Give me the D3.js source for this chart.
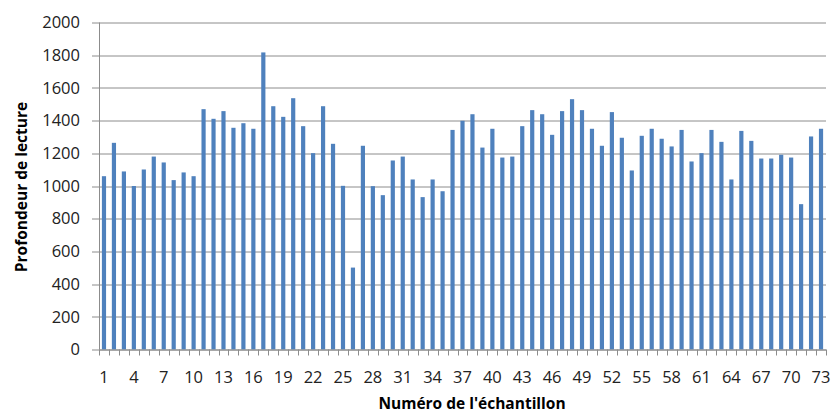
<!DOCTYPE html>
<html>
<head>
<meta charset="utf-8">
<script src="https://cdn.jsdelivr.net/npm/d3@7"></script>
<style>
  body { margin: 0; background: #fff; }
  text { font-family: "Open Sans", "Liberation Sans", sans-serif; }
</style>
</head>
<body>
<script>
// sample numbers 1..73
let samples = d3.range(1, 74);
// read depth per sample
let depths = [
  1060, 1264, 1089, 1000, 1101, 1180, 1144, 1036, 1083, 1060,
  1470, 1411, 1458, 1356, 1384, 1350, 1817, 1488, 1423, 1537,
  1366, 1201, 1488, 1258, 1001, 501, 1246, 999, 944, 1156,
  1180, 1040, 932, 1040, 968, 1343, 1399, 1439, 1235, 1350,
  1174, 1180, 1366, 1464, 1439, 1313, 1458, 1531, 1464, 1350,
  1246, 1452, 1295, 1095, 1307, 1350, 1289, 1242, 1343, 1150,
  1201, 1343, 1270, 1040, 1337, 1276, 1168, 1168, 1191, 1174,
  889, 1303, 1350
];
let yTicks = [0, 200, 400, 600, 800, 1000, 1200, 1400, 1600, 1800, 2000];

let w = 833, h = 415;
let margin = {top: 22.5, right: 7, bottom: 65.5, left: 99};
let width = w - margin.left - margin.right, height = h - margin.top - margin.bottom;

let svg = d3.select("body").append("svg").attr("width", w).attr("height", h);
let g = svg.append("g").attr("transform", "translate(" + margin.left + "," + margin.top + ")");

let xScale = d3.scaleBand().domain(samples).range([0, width]).paddingInner(0.58).paddingOuter(0.29);
let yScale = d3.scaleLinear().domain([0, 2000]).range([height, 0]);

// gridlines + left ticks
g.selectAll(".grid").data(yTicks).enter().append("line")
  .attr("x1", -7).attr("x2", width)
  .attr("y1", d => Math.round(yScale(d)) + 0.5).attr("y2", d => Math.round(yScale(d)) + 0.5)
  .attr("stroke", "#8c8c8c").attr("stroke-width", 1);

g.selectAll(".ylab").data(yTicks).enter().append("text")
  .attr("x", -19).attr("y", d => yScale(d)).attr("dy", "0.35em")
  .attr("text-anchor", "end").attr("font-size", "16.5px").attr("fill", "#222")
  .text(d => d);

// bars
g.selectAll(".bar").data(samples).enter().append("rect")
  .attr("x", d => xScale(d))
  .attr("y", (d, i) => yScale(depths[i]))
  .attr("width", xScale.bandwidth())
  .attr("height", (d, i) => height - yScale(depths[i]))
  .attr("fill", "#4f81bd");

// y axis line
g.append("line").attr("x1", 0.5).attr("x2", 0.5).attr("y1", 0).attr("y2", height)
  .attr("stroke", "#8c8c8c");

// x axis line and ticks between categories
g.append("line").attr("x1", 0).attr("x2", width)
  .attr("y1", Math.round(height) + 0.5).attr("y2", Math.round(height) + 0.5)
  .attr("stroke", "#8c8c8c");
let step = xScale.step();
g.selectAll(".xtick").data(d3.range(0, samples.length + 1)).enter().append("line")
  .attr("x1", d => Math.round(d * step) + 0.5).attr("x2", d => Math.round(d * step) + 0.5)
  .attr("y1", height).attr("y2", height + 6)
  .attr("stroke", "#8c8c8c");

g.selectAll(".xlab").data(samples.filter(d => (d - 1) % 3 === 0)).enter().append("text")
  .attr("x", d => xScale(d) + xScale.bandwidth() / 2)
  .attr("y", height + 33.5)
  .attr("text-anchor", "middle").attr("font-size", "16.5px").attr("fill", "#222")
  .text(d => d);

// axis titles
svg.append("text")
  .attr("x", 472).attr("y", 409)
  .attr("text-anchor", "middle").attr("font-size", "15.5px").attr("font-weight", "bold")
  .text("Numéro de l'échantillon");

svg.append("text")
  .attr("transform", "translate(27," + 187 + ") rotate(-90)")
  .attr("text-anchor", "middle").attr("font-size", "15.5px").attr("font-weight", "bold")
  .text("Profondeur de lecture");
</script>
</body>
</html>
